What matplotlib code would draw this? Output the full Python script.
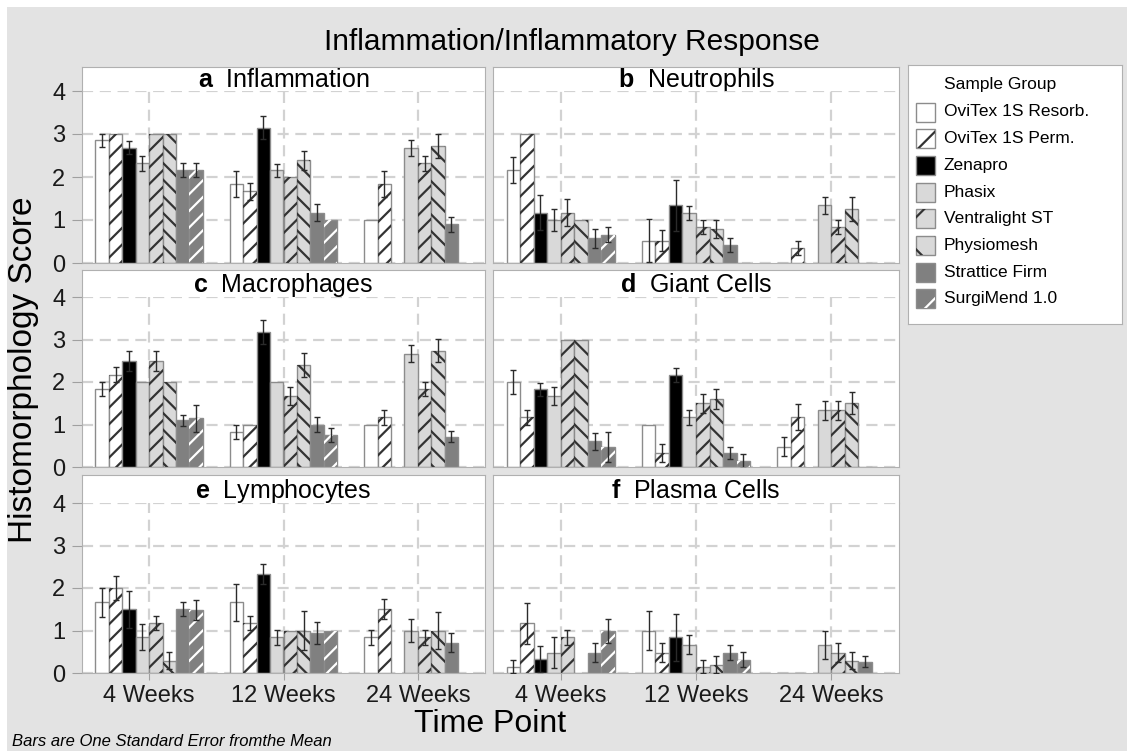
import numpy as np
import matplotlib.pyplot as plt
from matplotlib.patches import Rectangle

plt.rcParams['font.family'] = ['Liberation Sans', 'DejaVu Sans']
plt.rcParams['mathtext.fontset'] = 'custom'
plt.rcParams['mathtext.rm'] = 'Liberation Sans'
plt.rcParams['mathtext.bf'] = 'Liberation Sans:bold'
plt.rcParams['hatch.linewidth'] = 1.6

nan = np.nan

time_points = ['4 Weeks', '12 Weeks', '24 Weeks']
groups = ['OviTex 1S Resorb.', 'OviTex 1S Perm.', 'Zenapro', 'Phasix',
          'Ventralight ST', 'Physiomesh', 'Strattice Firm', 'SurgiMend 1.0']

# rows = sample groups, columns = 4 / 12 / 24 weeks
inflammation_mean = [[2.85, 1.84, 1.0], [3.0, 1.67, 1.84], [2.68, 3.15, nan], [2.32, 2.16, 2.67],
                     [3.0, 2.0, 2.32], [3.0, 2.39, 2.72], [2.16, 1.17, 0.9], [2.16, 1.0, nan]]
inflammation_se = [[0.16, 0.3, 0], [0, 0.2, 0.3], [0.15, 0.27, nan], [0.17, 0.15, 0.18],
                   [0, 0, 0.17], [0, 0.22, 0.27], [0.16, 0.2, 0.17], [0.16, 0, nan]]

neutrophils_mean = [[2.16, 0.52, 0], [3.0, 0.52, 0.35], [1.17, 1.34, nan], [1.0, 1.17, 1.34],
                    [1.17, 0.84, 0.84], [1.0, 0.79, 1.25], [0.57, 0.41, 0], [0.66, 0, nan]]
neutrophils_se = [[0.31, 0.5, 0], [0, 0.25, 0.16], [0.4, 0.6, nan], [0.25, 0.16, 0.2],
                  [0.31, 0.17, 0.17], [0, 0.21, 0.28], [0.22, 0.16, 0], [0.18, 0, nan]]

macrophages_mean = [[1.84, 0.82, 1.0], [2.17, 1.0, 1.17], [2.5, 3.17, nan], [2.0, 2.0, 2.67],
                    [2.5, 1.67, 1.84], [2.0, 2.4, 2.74], [1.1, 1.0, 0.71], [1.15, 0.75, nan]]
macrophages_se = [[0.17, 0.17, 0], [0.18, 0, 0.17], [0.24, 0.28, nan], [0, 0, 0.21],
                  [0.24, 0.22, 0.17], [0, 0.29, 0.28], [0.13, 0.18, 0.13], [0.32, 0.17, nan]]

giant_mean = [[2.0, 1.0, 0.48], [1.17, 0.33, 1.17], [1.83, 2.16, nan], [1.67, 1.17, 1.33],
              [3.0, 1.5, 1.33], [3.0, 1.6, 1.5], [0.61, 0.33, 0], [0.47, 0.14, nan]]
giant_se = [[0.28, 0, 0.23], [0.17, 0.22, 0.31], [0.15, 0.17, nan], [0.22, 0.17, 0.22],
            [0, 0.22, 0.22], [0, 0.23, 0.26], [0.2, 0.15, 0], [0.35, 0.17, nan]]

lymphocytes_mean = [[1.66, 1.66, 0.84], [2.0, 1.17, 1.5], [1.5, 2.33, nan], [0.84, 0.84, 1.0],
                    [1.17, 1.0, 0.84], [0.29, 1.0, 1.0], [1.5, 0.94, 0.71], [1.48, 0.98, nan]]
lymphocytes_se = [[0.35, 0.43, 0.17], [0.29, 0.16, 0.24], [0.43, 0.24, nan], [0.31, 0.17, 0.26],
                  [0.16, 0, 0.17], [0.2, 0.45, 0.43], [0.16, 0.25, 0.22], [0.24, 0, nan]]

plasma_mean = [[0.15, 1.0, 0], [1.17, 0.48, 0], [0.33, 0.84, nan], [0.48, 0.67, 0.67],
               [0.84, 0.15, 0.48], [0, 0.19, 0.29], [0.48, 0.48, 0.27], [0.98, 0.31, nan]]
plasma_se = [[0.15, 0.45, 0], [0.48, 0.23, 0], [0.3, 0.55, nan], [0.36, 0.22, 0.33],
             [0.17, 0.15, 0.23], [0, 0.2, 0.2], [0.23, 0.17, 0.13], [0.28, 0.18, nan]]

panels = [('a', 'Inflammation', inflammation_mean, inflammation_se),
          ('b', 'Neutrophils', neutrophils_mean, neutrophils_se),
          ('c', 'Macrophages', macrophages_mean, macrophages_se),
          ('d', 'Giant Cells', giant_mean, giant_se),
          ('e', 'Lymphocytes', lymphocytes_mean, lymphocytes_se),
          ('f', 'Plasma Cells', plasma_mean, plasma_se)]

# bar styling per sample group
face = ['white', 'white', 'black', '#d9d9d9', '#d9d9d9', '#d9d9d9', '#808080', '#808080']
hatches = [None, '//', None, None, '//', '\\\\', None, '//']
hatch_col = [None, '#333333', None, None, '#333333', '#333333', None, 'white']
edge = '#8c8c8c'
border = '#b0b0b0'
bg = '#e3e3e3'

W, H = 1127, 751


def fig_box(x0, y0, x1, y1):
    # pixel box (top-left origin) -> figure fraction rect
    return [x0 / W, 1 - y1 / H, (x1 - x0) / W, (y1 - y0) / H]


fig = plt.figure(figsize=(W / 100, H / 100), dpi=100, facecolor='white')
fig.add_artist(Rectangle((7 / W, 0), 1 - 7 / W, 1 - 7 / H, transform=fig.transFigure,
                         facecolor=bg, edgecolor='none', zorder=-10))

cols = [(82, 485), (493, 899)]
rows = [(67, 91, 263), (270, 297, 467), (475, 503, 673)]
bw = 0.1
x = np.arange(len(time_points))

for k, (letter, name, means, ses) in enumerate(panels):
    r, c = divmod(k, 2)
    cx0, cx1 = cols[c]
    top, mid, bot = rows[r]

    hdr = fig.add_axes(fig_box(cx0, top, cx1, mid))
    hdr.set_facecolor('white')
    hdr.set_xticks([])
    hdr.set_yticks([])
    for s in hdr.spines.values():
        s.set_color(border)
    hdr.spines['bottom'].set_visible(False)
    hdr.text(0.5, 0.17, rf'$\mathbf{{{letter}}}$  {name}', ha='center', va='baseline',
             fontsize=18, transform=hdr.transAxes)

    ax = fig.add_axes(fig_box(cx0, mid, cx1, bot))
    ax.set_facecolor('white')
    for j in range(len(groups)):
        xs = x + (j - 3.5) * bw
        m = np.array(means[j], dtype=float)
        s = np.array(ses[j], dtype=float)
        ok = ~np.isnan(m)
        ax.bar(xs[ok], m[ok], bw, color=face[j], edgecolor=edge, lw=1, zorder=2)
        if hatches[j]:
            ax.bar(xs[ok], m[ok], bw, fill=False, hatch=hatches[j],
                   edgecolor=hatch_col[j], lw=0, zorder=2.5)
        e = ok & (np.nan_to_num(s) > 0)
        ax.errorbar(xs[e], m[e], yerr=s[e], fmt='none', ecolor='#2b2b2b',
                    elinewidth=1, capsize=2, capthick=1, zorder=3)

    ax.set_xlim(-0.5, 2.5)
    ax.set_ylim(0, 4)
    ax.set_yticks(range(5))
    ax.set_xticks(x)
    ax.grid(True, ls=(0, (5, 3)), color='#d2d2d2', lw=1.6)
    ax.set_axisbelow(True)
    for s in ax.spines.values():
        s.set_color(border)
    ax.spines['top'].set_visible(False)

    if c == 0:
        ax.tick_params(axis='y', length=7, color='#a0a0a0', labelsize=17, pad=5,
                       labelcolor='#1a1a1a')
    else:
        ax.tick_params(axis='y', length=0, labelleft=False)
    if r == 2:
        ax.set_xticklabels(time_points)
        ax.tick_params(axis='x', length=5, color='#a0a0a0', labelsize=17, pad=4,
                       labelcolor='#1a1a1a')
    else:
        ax.tick_params(axis='x', length=0, labelbottom=False)

# legend drawn in its own box
lg = fig.add_axes(fig_box(908, 65, 1122, 324))
lg.set_facecolor('white')
lg.set_xlim(0, 214)
lg.set_ylim(259, 0)
lg.set_xticks([])
lg.set_yticks([])
for s in lg.spines.values():
    s.set_color(border)
lg.text(36, 20, 'Sample Group', fontsize=12.5, va='center', ha='left')
for j, g in enumerate(groups):
    yc = 47 + j * 26.7
    lg.add_patch(Rectangle((8, yc - 9.5), 19, 19, facecolor=face[j], edgecolor=edge, lw=1))
    if hatches[j]:
        lg.add_patch(Rectangle((8, yc - 9.5), 19, 19, fill=False, hatch=hatches[j][0],
                               edgecolor=hatch_col[j], lw=0))
    lg.text(36, yc, g, fontsize=12.5, va='center', ha='left')

fig.text(572 / W, 1 - 42 / H, 'Inflammation/Inflammatory Response', fontsize=21.5,
         ha='center', va='center')
fig.text(24 / W, 1 - 370 / H, 'Histomorphology Score', rotation=90, fontsize=24,
         ha='center', va='center')
fig.text(490 / W, 1 - 724 / H, 'Time Point', fontsize=23, ha='center', va='center')
fig.text(12 / W, 1 - 741 / H, 'Bars are One Standard Error fromthe Mean', style='italic',
         fontsize=12, ha='left', va='center')

fig.savefig('out.png', dpi=100)
plt.close(fig)
